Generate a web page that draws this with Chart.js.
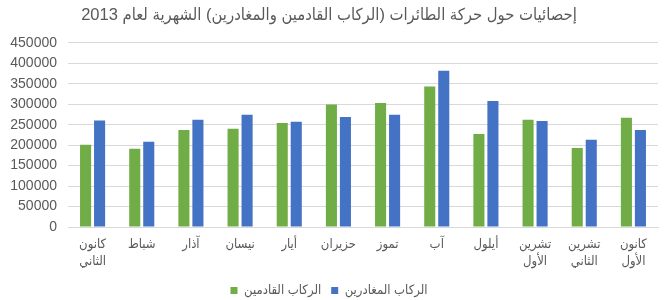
<!DOCTYPE html>
<html>
<head>
<meta charset="utf-8">
<script src="https://cdn.jsdelivr.net/npm/chart.js@4/dist/chart.umd.min.js"></script>
<style>
  html, body { margin: 0; padding: 0; background: #fff; }
  #wrap { width: 670px; height: 300px; position: relative; }
</style>
</head>
<body>
<div id="wrap"><canvas id="c"></canvas></div>
<script>
const chartTitle = 'إحصائيات حول حركة الطائرات (الركاب القادمين والمغادرين) الشهرية لعام 2013';
const categories = [
  ['كانون', 'الثاني'], 'شباط', 'آذار', 'نيسان', 'أيار', 'حزيران',
  'تموز', 'آب', 'أيلول', ['تشرين', 'الأول'], ['تشرين', 'الثاني'], ['كانون', 'الأول']
];
const seriesNames = ['الركاب القادمين', 'الركاب المغادرين'];
const arrivals = [201000, 191000, 237000, 240000, 254000, 299000, 303000, 343000, 227000, 262000, 193000, 267000];
const departures = [260000, 208000, 262000, 274000, 257000, 269000, 274000, 382000, 308000, 259000, 213000, 237000];
const yTicks = [0, 50000, 100000, 150000, 200000, 250000, 300000, 350000, 400000, 450000];

const FONT = '"Liberation Sans", Arial, "DejaVu Sans Condensed", "DejaVu Sans", sans-serif';
const TXT = '#595959';

new Chart(document.getElementById('c'), {
  type: 'bar',
  data: {
    labels: categories,
    datasets: [
      { label: seriesNames[0], data: arrivals, backgroundColor: '#70AD47', borderWidth: 0,
        categoryPercentage: 0.57, barPercentage: 0.79 },
      { label: seriesNames[1], data: departures, backgroundColor: '#4472C4', borderWidth: 0,
        categoryPercentage: 0.57, barPercentage: 0.79 }
    ]
  },
  options: {
    responsive: true,
    maintainAspectRatio: false,
    animation: false,
    layout: { padding: { left: 0, right: 12, top: 0, bottom: -7 } },
    plugins: {
      title: {
        display: true, text: chartTitle, color: TXT,
        font: { family: FONT, size: 16.5, weight: 'normal', lineHeight: 1.2 },
        padding: { top: 6, bottom: 17 }
      },
      legend: {
        position: 'bottom',
        labels: {
          color: TXT, boxWidth: 7, boxHeight: 7, padding: 10,
          font: { family: FONT, size: 13 }
        }
      },
      tooltip: { enabled: false }
    },
    scales: {
      x: {
        grid: { display: false, drawTicks: false },
        border: { display: true, color: '#D9D9D9' },
        ticks: { color: TXT, font: { family: FONT, size: 13, lineHeight: 1.3 }, padding: 9, maxRotation: 0, autoSkip: false },
        afterFit: s => { s.height = 47; }
      },
      y: {
        min: 0, max: 450000,
        afterBuildTicks: s => { s.ticks = yTicks.map(v => ({ value: v })); },
        grid: { color: '#D9D9D9', drawTicks: false },
        border: { display: false },
        ticks: { color: TXT, font: { family: FONT, size: 14 }, padding: 11,
          callback: v => String(v) },
        afterFit: s => { s.width = 68; }
      }
    }
  }
});
</script>
</body>
</html>
